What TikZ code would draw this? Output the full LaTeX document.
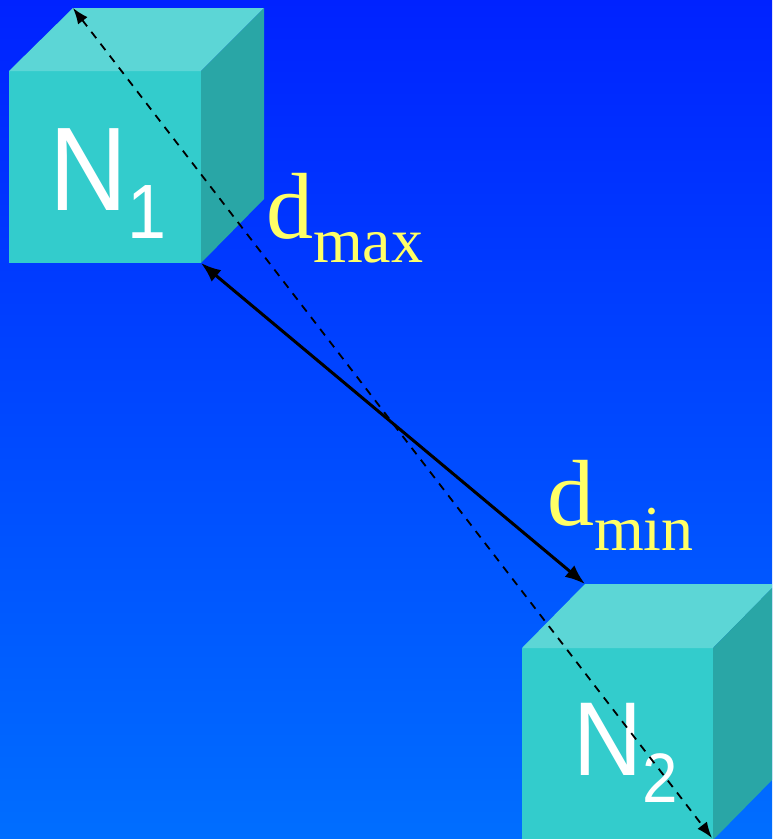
\documentclass[tikz,border=0pt]{standalone}
\usepackage{fontspec}
\setmainfont{Liberation Serif}
\newfontfamily\labsans{Liberation Sans}
\usetikzlibrary{arrows.meta}
\definecolor{bgtop}{RGB}{0,34,255}
\definecolor{bgbot}{RGB}{0,110,255}
\definecolor{cubefront}{RGB}{51,204,204}
\definecolor{cubetop}{RGB}{92,214,214}
\definecolor{cuberight}{RGB}{41,166,166}
\definecolor{labyellow}{RGB}{255,255,102}
\tikzset{
  frontface/.style={fill=cubefront},
  topface/.style={fill=cubetop},
  rightface/.style={fill=cuberight},
  nodelabel/.style={text=white, inner sep=0pt, anchor=base west, font=\labsans},
  distlabel/.style={text=labyellow, inner sep=0pt, anchor=base west},
  minarrow/.style={line width=3pt, {Latex[length=20pt,width=15pt]}-{Latex[length=20pt,width=15pt]}},
  maxarrow/.style={line width=1.8pt, dash pattern=on 8pt off 7pt, {Latex[length=16pt,width=12pt]}-{Latex[length=16pt,width=12pt]}}
}
\begin{document}
\begin{tikzpicture}[x=1pt,y=-1pt]
\useasboundingbox (0,0) rectangle (772,839);
\clip (0,0) rectangle (772,839);
\shade[top color=bgtop, bottom color=bgbot] (0,0) rectangle (772,839);
% cube 1 corners
\coordinate (a1) at (9,71);
\coordinate (b1) at (201,71);
\coordinate (c1) at (201,263);
\coordinate (d1) at (9,263);
\coordinate (e1) at (73,8);
\coordinate (f1) at (264,8);
\coordinate (g1) at (264,199);
\fill[frontface] (a1) -- (b1) -- (c1) -- (d1) -- cycle;
\fill[topface] (a1) -- (e1) -- (f1) -- (b1) -- cycle;
\fill[rightface] (b1) -- (f1) -- (g1) -- (c1) -- cycle;
% cube 2 corners
\coordinate (a2) at (522,648);
\coordinate (b2) at (713,648);
\coordinate (c2) at (713,840);
\coordinate (d2) at (522,840);
\coordinate (e2) at (585,584);
\coordinate (f2) at (776,584);
\coordinate (g2) at (776,776);
\fill[frontface] (a2) -- (b2) -- (c2) -- (d2) -- cycle;
\fill[topface] (a2) -- (e2) -- (f2) -- (b2) -- cycle;
\fill[rightface] (b2) -- (f2) -- (g2) -- (c2) -- cycle;
% labels
\node[nodelabel] (n1) at (49,210) {\scalebox{0.91}[1]{\fontsize{119}{119}\selectfont N\raisebox{-28pt}{\fontsize{77}{77}\selectfont 1}}};
\node[nodelabel] (n2) at (573,775) {\scalebox{0.91}[1]{\fontsize{105}{105}\selectfont N\raisebox{-27pt}{\fontsize{70}{70}\selectfont 2}}};
\node[distlabel] (dmax) at (266,238) {\fontsize{94}{94}\selectfont d\raisebox{-24pt}{\fontsize{64}{64}\selectfont max}};
\node[distlabel] (dmin) at (547,525) {\fontsize{94}{94}\selectfont d\raisebox{-25pt}{\fontsize{64}{64}\selectfont min}};
% connectors
\coordinate (dtip) at (712,838);
\draw[maxarrow] (e1) -- (dtip);
\draw[minarrow] (c1) -- (e2);
\end{tikzpicture}
\end{document}
